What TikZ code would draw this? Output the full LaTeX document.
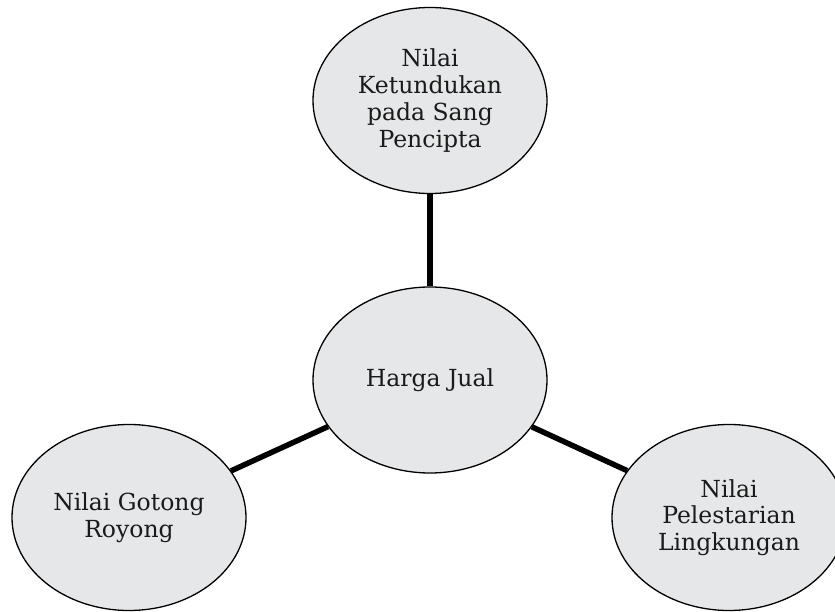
\documentclass[tikz,border=0pt]{standalone}
\usepackage{fontspec}
\setmainfont{DejaVu Serif}
\usetikzlibrary{shapes.geometric}
\definecolor{bubblefill}{HTML}{E6E7E8}
\definecolor{txtcol}{HTML}{1A1A1A}
\tikzset{
  bubble/.style={ellipse, draw=black, line width=1.3pt, fill=bubblefill,
    minimum width=234pt, minimum height=186pt, inner sep=0pt,
    align=center, text=txtcol, font=\fontsize{23.5}{26.8}\selectfont},
  link/.style={line width=5.5pt, draw=black}
}
\begin{document}
\begin{tikzpicture}[x=1pt,y=-1pt]
\useasboundingbox (0,0) rectangle (835,612);
\clip (0,0) rectangle (835,612);
\fill[white] (0,0) rectangle (835,612);
\node[bubble] (top) at (430,100.5) {Nilai\\Ketundukan\\pada Sang\\Pencipta};
\node[bubble] (mid) at (430,380) {Harga Jual};
\node[bubble] (left) at (129,517.5) {Nilai Gotong\\Royong};
\node[bubble] (right) at (729,517.5) {Nilai\\Pelestarian\\Lingkungan};
\draw[link] (top) -- (mid);
\draw[link] (mid) -- (left);
\draw[link] (mid) -- (right);
\end{tikzpicture}
\end{document}
